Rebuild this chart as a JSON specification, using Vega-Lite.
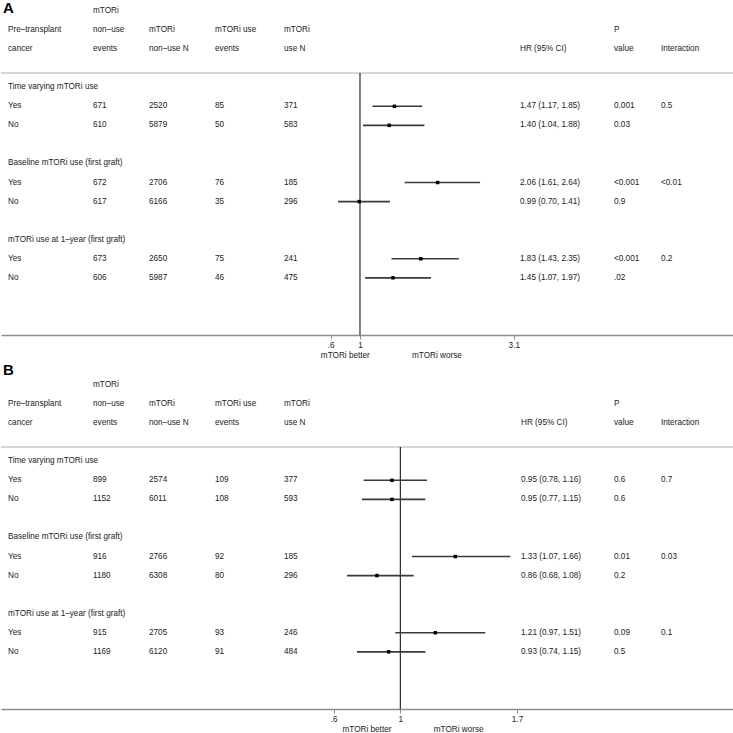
{
  "$schema": "https://vega.github.io/schema/vega-lite/v6.json",
  "padding": 0,
  "background": "white",
  "bounds": "flush",
  "spacing": 41,
  "config": {"view": {"stroke": null}},
  "datasets": {
    "cols": [
      {"col": "c0", "idx": 0}, {"col": "c1", "idx": 1}, {"col": "c2", "idx": 2}, {"col": "c3", "idx": 3},
      {"col": "c4", "idx": 4}, {"col": "hr", "idx": 5}, {"col": "p", "idx": 6}, {"col": "int", "idx": 7}
    ],
    "tbl": [
      {"panel": "A", "row": 0, "c1": "mTORi"},
      {"panel": "A", "row": 1, "c0": "Pre–transplant", "c1": "non–use", "c2": "mTORi", "c3": "mTORi use", "c4": "mTORi", "p": "P"},
      {"panel": "A", "row": 2, "c0": "cancer", "c1": "events", "c2": "non–use N", "c3": "events", "c4": "use N", "hr": "HR (95% CI)", "p": "value", "int": "Interaction"},
      {"panel": "A", "row": 4, "c0": "Time varying mTORi use"},
      {"panel": "A", "row": 5, "c0": "Yes", "c1": "671", "c2": "2520", "c3": "85", "c4": "371", "hr": "1.47 (1.17, 1.85)", "p": "0.001", "int": "0.5", "est": 1.47, "lo": 1.17, "hi": 1.85},
      {"panel": "A", "row": 6, "c0": "No", "c1": "610", "c2": "5879", "c3": "50", "c4": "583", "hr": "1.40 (1.04, 1.88)", "p": "0.03", "est": 1.40, "lo": 1.04, "hi": 1.88},
      {"panel": "A", "row": 8, "c0": "Baseline mTORi use (first graft)"},
      {"panel": "A", "row": 9, "c0": "Yes", "c1": "672", "c2": "2706", "c3": "76", "c4": "185", "hr": "2.06 (1.61, 2.64)", "p": "<0.001", "int": "<0.01", "est": 2.06, "lo": 1.61, "hi": 2.64},
      {"panel": "A", "row": 10, "c0": "No", "c1": "617", "c2": "6166", "c3": "35", "c4": "296", "hr": "0.99 (0.70, 1.41)", "p": "0.9", "est": 0.99, "lo": 0.70, "hi": 1.41},
      {"panel": "A", "row": 12, "c0": "mTORi use at 1–year (first graft)"},
      {"panel": "A", "row": 13, "c0": "Yes", "c1": "673", "c2": "2650", "c3": "75", "c4": "241", "hr": "1.83 (1.43, 2.35)", "p": "<0.001", "int": "0.2", "est": 1.83, "lo": 1.43, "hi": 2.35},
      {"panel": "A", "row": 14, "c0": "No", "c1": "606", "c2": "5987", "c3": "46", "c4": "475", "hr": "1.45 (1.07, 1.97)", "p": ".02", "est": 1.45, "lo": 1.07, "hi": 1.97},
      {"panel": "B", "row": 0, "c1": "mTORi"},
      {"panel": "B", "row": 1, "c0": "Pre–transplant", "c1": "non–use", "c2": "mTORi", "c3": "mTORi use", "c4": "mTORi", "p": "P"},
      {"panel": "B", "row": 2, "c0": "cancer", "c1": "events", "c2": "non–use N", "c3": "events", "c4": "use N", "hr": "HR (95% CI)", "p": "value", "int": "Interaction"},
      {"panel": "B", "row": 4, "c0": "Time varying mTORi use"},
      {"panel": "B", "row": 5, "c0": "Yes", "c1": "899", "c2": "2574", "c3": "109", "c4": "377", "hr": "0.95 (0.78, 1.16)", "p": "0.6", "int": "0.7", "est": 0.95, "lo": 0.78, "hi": 1.16},
      {"panel": "B", "row": 6, "c0": "No", "c1": "1152", "c2": "6011", "c3": "108", "c4": "593", "hr": "0.95 (0.77, 1.15)", "p": "0.6", "est": 0.95, "lo": 0.77, "hi": 1.15},
      {"panel": "B", "row": 8, "c0": "Baseline mTORi use (first graft)"},
      {"panel": "B", "row": 9, "c0": "Yes", "c1": "916", "c2": "2766", "c3": "92", "c4": "185", "hr": "1.33 (1.07, 1.66)", "p": "0.01", "int": "0.03", "est": 1.33, "lo": 1.07, "hi": 1.66},
      {"panel": "B", "row": 10, "c0": "No", "c1": "1180", "c2": "6308", "c3": "80", "c4": "296", "hr": "0.86 (0.68, 1.08)", "p": "0.2", "est": 0.86, "lo": 0.68, "hi": 1.08},
      {"panel": "B", "row": 12, "c0": "mTORi use at 1–year (first graft)"},
      {"panel": "B", "row": 13, "c0": "Yes", "c1": "915", "c2": "2705", "c3": "93", "c4": "246", "hr": "1.21 (0.97, 1.51)", "p": "0.09", "int": "0.1", "est": 1.21, "lo": 0.97, "hi": 1.51},
      {"panel": "B", "row": 14, "c0": "No", "c1": "1169", "c2": "6120", "c3": "91", "c4": "484", "hr": "0.93 (0.74, 1.15)", "p": "0.5", "est": 0.93, "lo": 0.74, "hi": 1.15}
    ]
  },
  "vconcat": [
    {
      "width": 733,
      "height": 333,
      "layer": [
        {
          "data": {"name": "tbl"},
          "transform": [
            {"filter": "datum.panel == 'A'"},
            {"fold": ["c0", "c1", "c2", "c3", "c4", "hr", "p", "int"], "as": ["col", "txt"]},
            {"filter": "isValid(datum.txt) && datum.txt != ''"},
            {"lookup": "col", "from": {"data": {"name": "cols"}, "key": "col", "fields": ["idx"]}}
          ],
          "mark": {"type": "text", "align": "left", "baseline": "middle", "font": "Liberation Sans", "fontSize": 8.2, "color": "#222222"},
          "encoding": {
            "x": {"field": "idx", "type": "quantitative", "scale": {"domain": [0, 1, 2, 3, 4, 5, 6, 7], "range": [7, 92, 148, 214, 283, 519, 613, 660], "nice": false, "zero": false}, "axis": null},
            "y": {"field": "row", "type": "quantitative", "scale": {"domain": [-0.474, 17], "reverse": true, "nice": false, "zero": false}, "axis": null},
            "text": {"field": "txt"}
          }
        },
        {
          "layer": [
            {
              "data": {"values": [{}]},
              "mark": {"type": "rule", "color": "#c8c8c8", "strokeWidth": 1.5},
              "encoding": {"y": {"datum": 3.25}}
            },
            {
              "data": {"values": [{}]},
              "mark": {"type": "rule", "color": "#000000", "strokeWidth": 1},
              "encoding": {"x": {"datum": 1}, "y": {"datum": 3.25}, "y2": {"datum": 17}}
            },
            {
              "data": {"name": "tbl"},
              "transform": [{"filter": "datum.panel == 'A' && isValid(datum.est)"}],
              "mark": {"type": "rule", "color": "#3a3a3a", "strokeWidth": 1.6},
              "encoding": {
                "x": {"field": "lo", "type": "quantitative", "scale": {"domain": [-3.902, 6.107], "nice": false, "zero": false},
                  "axis": {"orient": "bottom", "title": null, "values": [0.6, 1, 3.1], "format": "~g", "labelExpr": "replace(datum.label, regexp('^0[.]'), '.')", "grid": false, "domainColor": "#8c8c8c", "domainWidth": 1.5, "tickColor": "#8c8c8c", "tickSize": 4, "tickWidth": 1, "labelFont": "Liberation Sans", "labelFontSize": 8.2, "labelColor": "#222222", "labelPadding": 2}},
                "x2": {"field": "hi"},
                "y": {"field": "row", "type": "quantitative"}
              }
            },
            {
              "data": {"name": "tbl"},
              "transform": [{"filter": "datum.panel == 'A' && isValid(datum.est)"}],
              "mark": {"type": "point", "shape": "square", "filled": true, "color": "#000000", "size": 12, "opacity": 1},
              "encoding": {
                "x": {"field": "est", "type": "quantitative"},
                "y": {"field": "row", "type": "quantitative"}
              }
            },
            {
              "data": {"values": [{}]},
              "mark": {"type": "text", "align": "center", "baseline": "middle", "font": "Liberation Sans", "fontSize": 8.2, "color": "#222222"},
              "encoding": {"x": {"datum": 0.8}, "y": {"datum": 18.1}, "text": {"value": "mTORi better"}}
            },
            {
              "data": {"values": [{}]},
              "mark": {"type": "text", "align": "center", "baseline": "middle", "font": "Liberation Sans", "fontSize": 8.2, "color": "#222222"},
              "encoding": {"x": {"datum": 2.05}, "y": {"datum": 18.1}, "text": {"value": "mTORi worse"}}
            },
            {
              "data": {"values": [{}]},
              "mark": {"type": "text", "align": "left", "baseline": "middle", "font": "Liberation Sans", "fontSize": 15, "fontWeight": "bold", "color": "#000000"},
              "encoding": {"x": {"datum": -3.875}, "y": {"datum": -0.16}, "text": {"value": "A"}}
            }
          ]
        }
      ],
      "resolve": {"scale": {"x": "independent"}}
    },
    {
      "width": 733,
      "height": 333,
      "layer": [
        {
          "data": {"name": "tbl"},
          "transform": [
            {"filter": "datum.panel == 'B'"},
            {"fold": ["c0", "c1", "c2", "c3", "c4", "hr", "p", "int"], "as": ["col", "txt"]},
            {"filter": "isValid(datum.txt) && datum.txt != ''"},
            {"lookup": "col", "from": {"data": {"name": "cols"}, "key": "col", "fields": ["idx"]}}
          ],
          "mark": {"type": "text", "align": "left", "baseline": "middle", "font": "Liberation Sans", "fontSize": 8.2, "color": "#222222"},
          "encoding": {
            "x": {"field": "idx", "type": "quantitative", "scale": {"domain": [0, 1, 2, 3, 4, 5, 6, 7], "range": [7, 92, 148, 214, 283, 520, 613, 660], "nice": false, "zero": false}, "axis": null},
            "y": {"field": "row", "type": "quantitative", "scale": {"domain": [-0.474, 17], "reverse": true, "nice": false, "zero": false}, "axis": null},
            "text": {"field": "txt"}
          }
        },
        {
          "layer": [
            {
              "data": {"values": [{}]},
              "mark": {"type": "rule", "color": "#c8c8c8", "strokeWidth": 1.5},
              "encoding": {"y": {"datum": 3.25}}
            },
            {
              "data": {"values": [{}]},
              "mark": {"type": "rule", "color": "#000000", "strokeWidth": 1},
              "encoding": {"x": {"datum": 1}, "y": {"datum": 3.25}, "y2": {"datum": 17}}
            },
            {
              "data": {"name": "tbl"},
              "transform": [{"filter": "datum.panel == 'B' && isValid(datum.est)"}],
              "mark": {"type": "rule", "color": "#3a3a3a", "strokeWidth": 1.6},
              "encoding": {
                "x": {"field": "lo", "type": "quantitative", "scale": {"domain": [-1.3953, 3.0018], "nice": false, "zero": false},
                  "axis": {"orient": "bottom", "title": null, "values": [0.6, 1, 1.7], "format": "~g", "labelExpr": "replace(datum.label, regexp('^0[.]'), '.')", "grid": false, "domainColor": "#8c8c8c", "domainWidth": 1.5, "tickColor": "#8c8c8c", "tickSize": 4, "tickWidth": 1, "labelFont": "Liberation Sans", "labelFontSize": 8.2, "labelColor": "#222222", "labelPadding": 2}},
                "x2": {"field": "hi"},
                "y": {"field": "row", "type": "quantitative"}
              }
            },
            {
              "data": {"name": "tbl"},
              "transform": [{"filter": "datum.panel == 'B' && isValid(datum.est)"}],
              "mark": {"type": "point", "shape": "square", "filled": true, "color": "#000000", "size": 12, "opacity": 1},
              "encoding": {
                "x": {"field": "est", "type": "quantitative"},
                "y": {"field": "row", "type": "quantitative"}
              }
            },
            {
              "data": {"values": [{}]},
              "mark": {"type": "text", "align": "center", "baseline": "middle", "font": "Liberation Sans", "fontSize": 8.2, "color": "#222222"},
              "encoding": {"x": {"datum": 0.8}, "y": {"datum": 18.1}, "text": {"value": "mTORi better"}}
            },
            {
              "data": {"values": [{}]},
              "mark": {"type": "text", "align": "center", "baseline": "middle", "font": "Liberation Sans", "fontSize": 8.2, "color": "#222222"},
              "encoding": {"x": {"datum": 1.35}, "y": {"datum": 18.1}, "text": {"value": "mTORi worse"}}
            },
            {
              "data": {"values": [{}]},
              "mark": {"type": "text", "align": "left", "baseline": "middle", "font": "Liberation Sans", "fontSize": 15, "fontWeight": "bold", "color": "#000000"},
              "encoding": {"x": {"datum": -1.383}, "y": {"datum": -0.763}, "text": {"value": "B"}}
            }
          ]
        }
      ],
      "resolve": {"scale": {"x": "independent"}}
    }
  ]
}
